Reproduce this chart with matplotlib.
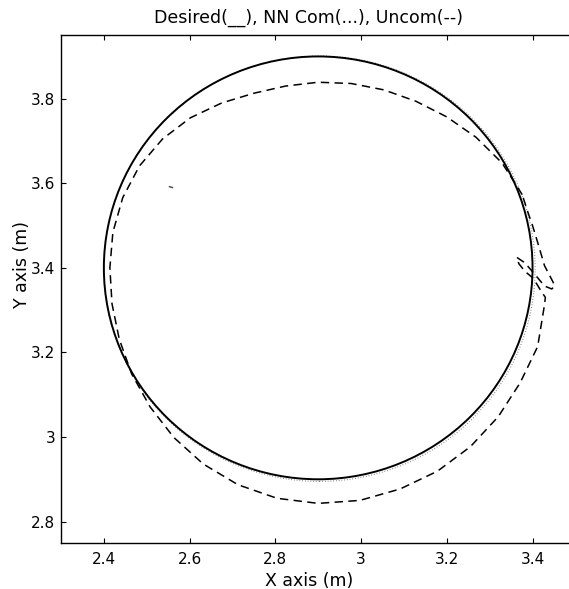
import matplotlib
matplotlib.use("Agg")
import matplotlib.pyplot as plt
from matplotlib.patches import Circle

plt.rcParams['font.family'] = ['DejaVu Sans']

# Desired trajectory: circle (center, radius)
desired_center = (2.90, 3.40)
desired_radius = 0.50

# NN compensated trajectory: nearly on the desired circle
nn_center = (2.903, 3.398)
nn_radius = 0.503
nn_stray_x = [2.553, 2.560]
nn_stray_y = [3.592, 3.590]

# Uncompensated trajectory points
uncom_x = [3.376, 3.329, 3.268, 3.200, 3.128, 3.053, 2.977, 2.900, 2.824, 2.750,
           2.675, 2.602, 2.537, 2.483, 2.444, 2.421, 2.414, 2.419, 2.436, 2.465,
           2.508, 2.563, 2.632, 2.713, 2.804, 2.900, 2.997, 3.091, 3.178, 3.255,
           3.320, 3.371, 3.412, 3.427, 3.430, 3.420, 3.402, 3.382, 3.368, 3.363,
           3.382, 3.405, 3.428, 3.445, 3.452, 3.445, 3.428, 3.415, 3.400, 3.389,
           3.376]
uncom_y = [3.573, 3.648, 3.709, 3.757, 3.794, 3.821, 3.836, 3.839, 3.830, 3.813,
           3.790, 3.755, 3.705, 3.641, 3.566, 3.484, 3.400, 3.315, 3.231, 3.149,
           3.071, 2.999, 2.936, 2.887, 2.855, 2.843, 2.850, 2.877, 2.919, 2.977,
           3.048, 3.128, 3.214, 3.307, 3.330, 3.345, 3.375, 3.392, 3.410, 3.425,
           3.412, 3.385, 3.357, 3.350, 3.358, 3.372, 3.405, 3.450, 3.500, 3.532,
           3.573]

x_ticks = [2.4, 2.6, 2.8, 3.0, 3.2, 3.4]
x_tick_labels = ['2.4', '2.6', '2.8', '3', '3.2', '3.4']
y_ticks = [2.8, 3.0, 3.2, 3.4, 3.6, 3.8]
y_tick_labels = ['2.8', '3', '3.2', '3.4', '3.6', '3.8']

W, H = 569, 589
fig = plt.figure(figsize=(W / 100, H / 100), dpi=100)
left, right, top, bottom = 61, 575.4, 35.3, 542.7
ax = fig.add_axes([left / W, 1 - bottom / H, (right - left) / W, (bottom - top) / H])

ax.add_patch(Circle(nn_center, nn_radius, fill=False, ec='#777777', lw=0.9,
                    ls=(0, (0.6, 1.6))))
ax.plot(nn_stray_x, nn_stray_y, color='#444444', lw=1.0)
ax.add_patch(Circle(desired_center, desired_radius, fill=False, ec='black', lw=1.4))
ax.plot(uncom_x, uncom_y, color='black', lw=1.1, ls=(0, (5.5, 3.5)))

ax.set_xlim(2.3, 3.5)
ax.set_ylim(2.75, 3.95)
ax.set_xticks(x_ticks, x_tick_labels)
ax.set_yticks(y_ticks, y_tick_labels)
ax.tick_params(direction='in', length=3.5, width=0.8, labelsize=11,
               top=True, right=True)
ax.tick_params(axis='x', pad=7)
ax.tick_params(axis='y', pad=4)
for s in ax.spines.values():
    s.set_linewidth(1.0)

ax.set_title('Desired(__), NN Com(...), Uncom(--)', fontsize=12.5, x=0.482, pad=9)
ax.set_xlabel('X axis (m)', fontsize=12.5, x=0.482, labelpad=3)
ax.set_ylabel('Y axis (m)', fontsize=12.5, y=0.549, labelpad=0)

fig.savefig('out.png', dpi=100)
